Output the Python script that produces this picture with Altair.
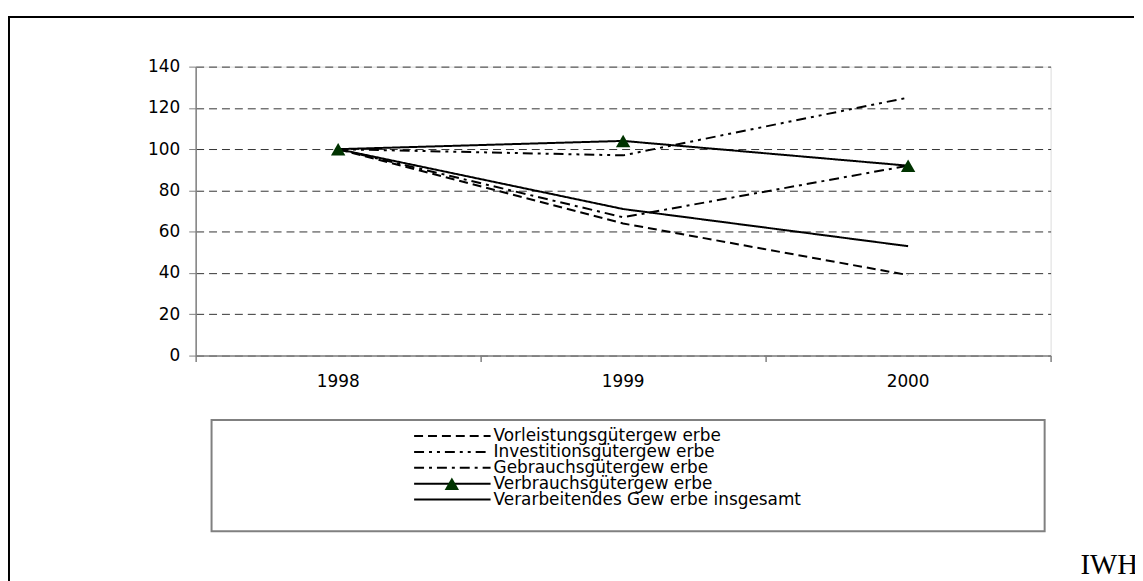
import altair as alt
import pandas as pd

years = [1998, 1999, 2000]
series_names = [
    "Vorleistungsgütergew erbe",
    "Investitionsgütergew erbe",
    "Gebrauchsgütergew erbe",
    "Verbrauchsgütergew erbe",
    "Verarbeitendes Gew erbe insgesamt",
]
vorleistung = [100, 64, 39]
investition = [100, 97, 125]
gebrauch = [100, 67, 92]
verbrauch = [100, 104, 92]
verarbeitend = [100, 71, 53]
y_ticks = [0, 20, 40, 60, 80, 100, 120, 140]
x_bounds = [1997.5, 1998.5, 1999.5, 2000.5]

all_values = [vorleistung, investition, gebrauch, verbrauch, verarbeitend]
rows = []
for name, vals in zip(series_names, all_values):
    for yr, v in zip(years, vals):
        rows.append({"series": name, "year": yr, "value": v})
df = pd.DataFrame(rows)
legend_df = pd.DataFrame({"series": series_names, "idx": list(range(len(series_names)))})
years_df = pd.DataFrame({"year": years, "label": [str(y) for y in years]})
frame_df = pd.DataFrame({"k": [0]})

FONT = "DejaVu Sans"
W, H = 861, 291
dash_scale = alt.Scale(
    domain=series_names,
    range=[[9, 5], [10, 5, 3, 5, 3, 5], [10, 5, 3, 5], [1, 0], [1, 0]],
)
GREEN = "#003300"

x_enc = alt.X(
    "year:Q",
    scale=alt.Scale(domain=[1997.5, 2000.5], nice=False, zero=False),
    axis=alt.Axis(values=x_bounds, labels=False, grid=False, title=None,
                  tickSize=6, tickColor="#808080", domainColor="#808080",
                  domainWidth=1.5, tickWidth=1.5),
)
y_enc = alt.Y(
    "value:Q",
    scale=alt.Scale(domain=[0, 140], nice=False),
    axis=alt.Axis(values=y_ticks, title=None, grid=True, gridDash=[8, 5],
                  gridColor="#333333", gridWidth=1, tickSize=7,
                  tickColor="#808080", domainColor="#808080", domainWidth=1.5,
                  labelFont=FONT, labelFontSize=17, labelColor="#000000",
                  labelPadding=9),
)

# outer frame: only the top and left edges are visible in the picture
frame_top = alt.Chart(frame_df).mark_rule(color="#000000", strokeWidth=2).encode(
    x=alt.value(-189), x2=alt.value(945), y=alt.value(-50)
)
frame_left = alt.Chart(frame_df).mark_rule(color="#000000", strokeWidth=2).encode(
    x=alt.value(-188), y=alt.value(-51), y2=alt.value(520)
)

lines = alt.Chart(df).mark_line(color="#000000", strokeWidth=2).encode(
    x=x_enc, y=y_enc,
    strokeDash=alt.StrokeDash("series:N", scale=dash_scale, legend=None),
    detail="series:N",
)

tri = alt.Chart(df).transform_filter(
    alt.datum.series == series_names[3]
).mark_point(shape="triangle-up", filled=True, color=GREEN, opacity=1, size=210).encode(
    x="year:Q", y="value:Q"
)

xlabels = alt.Chart(years_df).mark_text(
    font=FONT, fontSize=17, baseline="middle", align="center", color="#000000"
).encode(x="year:Q", y=alt.value(H + 27), text="label:N")

legend_box = alt.Chart(frame_df).mark_rect(
    fill="#ffffff", stroke="#808080", strokeWidth=2
).encode(x=alt.value(16), x2=alt.value(855), y=alt.value(356), y2=alt.value(468))

leg_base = alt.Chart(legend_df).transform_calculate(ly="372 + 16*datum.idx")
leg_lines = leg_base.mark_rule(color="#000000", strokeWidth=2).encode(
    x=alt.value(220), x2=alt.value(297),
    y=alt.Y("ly:Q", scale=None, axis=None),
    strokeDash=alt.StrokeDash("series:N", scale=dash_scale, legend=None),
)
leg_tri = leg_base.transform_filter(alt.datum.idx == 3).mark_point(
    shape="triangle-up", filled=True, color=GREEN, opacity=1, size=210
).encode(x=alt.value(258), y=alt.Y("ly:Q", scale=None, axis=None))
leg_text = leg_base.mark_text(
    font=FONT, fontSize=17, align="left", baseline="middle", color="#000000"
).encode(x=alt.value(300), y=alt.Y("ly:Q", scale=None, axis=None), text="series:N")

iwh = alt.Chart(frame_df).transform_calculate(t="'IWH'").mark_text(
    font="Liberation Serif", fontSize=29, align="left", baseline="alphabetic",
    color="#000000"
).encode(x=alt.value(891), y=alt.value(511), text="t:N")

chart = alt.layer(
    frame_top, frame_left, legend_box, lines, tri, xlabels,
    leg_lines, leg_tri, leg_text, iwh
).properties(
    width=W, height=H,
    autosize=alt.AutoSizeParams(type="none"),
    padding={"left": 189, "top": 57, "right": 85, "bottom": 225},
).configure_view(stroke=None).configure(background="#ffffff")

chart.save("out.html", embed_options={"renderer": "svg", "actions": False})
